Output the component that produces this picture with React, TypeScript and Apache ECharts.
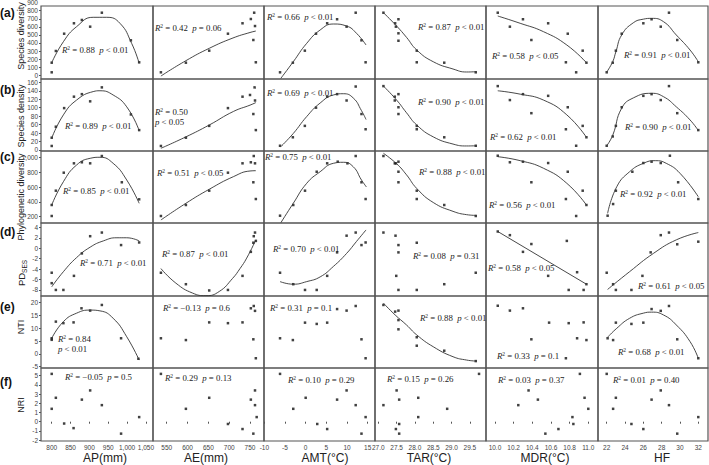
import React, { useEffect, useRef } from "react";
import * as echarts from "echarts";

// ---------- tick labels ----------
const apTicks = [800, 850, 900, 950, 1000, 1050];
const aeTicks = [550, 600, 650, 700, 750];
const amtTicks = [-10, -5, 0, 5, 10, 15];
const tarTicks = [27.0, 27.5, 28.0, 28.5, 29.0, 29.5];
const mdrTicks = [10.0, 10.2, 10.4, 10.6, 10.8, 11.0];
const hfTicks = [22, 24, 26, 28, 30, 32];
const sdivTicks = [0, 100, 200, 300, 400, 500, 600, 700, 800];
const sdenTicks = [0, 20, 40, 60, 80, 100, 120, 140, 160];
const pdTicks = [200, 400, 600, 800, 1000];
const pdsesTicks = [-8, -6, -4, -2, 0, 2, 4];
const ntiTicks = [-5, 0, 5, 10, 15, 20];
const nriTicks = [-2, -1, 0, 1, 2, 3, 4, 5];

const xNames = ["AP(mm)", "AE(mm)", "AMT(°C)", "TAR(°C)", "MDR(°C)", "HF"];
const rowTags = ["(a)", "(b)", "(c)", "(d)", "(e)", "(f)"];

// ---------- row (a) species diversity ----------
const a1Pts = [[800,156],[800,37],[811,301],[833,515],[859,644],[880,685],[902,602],[933,775],[1010,433],[1032,161]];
const a1Fit = [[800,156],[831,416],[866,602],[910,718],[946,718],[981,644],[1012,396],[1032,149]];
const a2Pts = [[536,37],[596,156],[652,305],[697,515],[732,644],[752,697],[760,775],[762,610],[758,437],[764,161]];
const a2Fit = [[536,-9],[596,181],[652,334],[709,462],[750,530],[764,548]];
const a3Pts = [[-6.2,37],[-3.1,156],[-0.2,305],[2.5,515],[5.2,644],[7.6,694],[12.1,775],[9.9,602],[13.5,433],[14.5,161]];
const a3Fit = [[-6.0,-37],[-3.0,168],[0.25,396],[3.5,561],[6.7,635],[9.9,610],[12.3,520],[14.6,375]];
const a4Pts = [[27.14,775],[27.46,644],[27.55,694],[27.48,602],[27.55,520],[27.55,428],[28.05,305],[28.05,161],[28.8,156],[29.66,37]];
const a4Fit = [[27.14,775],[27.5,610],[27.77,470],[28.05,313],[28.5,168],[29.04,78],[29.41,41],[29.68,45]];
const a5Pts = [[10.03,775],[10.16,602],[10.30,694],[10.39,437],[10.57,644],[10.78,515],[10.76,161],[10.87,37],[10.94,305],[10.98,156]];
const a5Fit = [[10.03,734],[10.27,644],[10.52,540],[10.77,375],[10.98,156]];
const a6Pts = [[22.0,37],[22.66,156],[23.0,305],[23.64,515],[26.0,644],[26.9,694],[27.9,602],[28.8,775],[29.7,437],[32.0,161]];
const a6Fit = [[22.0,40],[22.66,170],[23.0,290],[23.64,500],[24.9,650],[26.0,695],[26.9,705],[28.2,664],[29.6,499],[31.1,313],[32.0,168]];

// ---------- row (b) species density ----------
const b1Pts = [[800,29],[800,9.5],[811,55],[833,99],[859,126],[880,132],[902,115],[933,148],[1010,84],[1032,47]];
const b1Fit = [[800,28],[831,83],[866,118],[910,138],[928,140],[963,130],[999,102],[1032,46]];
const b2Pts = [[536,9.5],[596,29],[652,57],[697,99],[732,126],[750,130],[761,148],[762,117],[758,85],[764,47]];
const b2Fit = [[536,4],[596,31],[652,59],[710,91],[750,106],[764,112]];
const b3Pts = [[-6.2,10],[-3.1,30],[-0.2,57],[2.5,100],[5.2,126],[7.6,132],[12.1,150],[9.9,117],[13.5,85],[14.5,49]];
const b3Fit = [[-6.0,8],[-3.0,39],[0.25,79],[3.5,111],[6.7,130],[9.1,133],[11.5,123],[13.5,93],[14.6,72]];
const b4Pts = [[27.14,151],[27.45,126],[27.55,132],[27.45,117],[27.55,101],[27.55,85],[28.05,57],[28.05,49],[28.8,30],[29.66,10]];
const b4Fit = [[27.14,151],[27.5,118],[27.77,88],[28.05,59],[28.5,31],[29.04,14],[29.41,9.5],[29.68,10]];
const b5Pts = [[10.03,151],[10.16,118],[10.30,132],[10.39,87],[10.57,128],[10.78,101],[10.76,49],[10.87,10],[10.94,57],[10.98,30]];
const b5Fit = [[10.03,140],[10.27,132],[10.52,118],[10.77,83],[10.98,30]];
const b6Pts = [[22.0,10],[22.66,32],[23.0,57],[23.64,101],[26.0,128],[26.9,132],[27.9,118],[28.8,151],[29.7,87],[32.0,47]];
const b6Fit = [[22.0,10],[22.66,35],[23.64,99],[24.9,123],[26.9,134],[28.2,126],[29.6,102],[31.1,71],[32.0,46]];

// ---------- row (c) phylogenetic diversity ----------
const c1Pts = [[800,356],[800,207],[811,550],[832,794],[859,921],[880,935],[902,921],[933,1020],[986,664],[1032,433]];
const c1Fit = [[800,356],[831,672],[866,898],[902,989],[928,1003],[963,921],[999,695],[1032,379]];
const c2Pts = [[536,207],[596,356],[652,550],[697,794],[732,921],[752,935],[759,1020],[762,921],[758,664],[764,437]];
const c2Fit = [[536,153],[596,379],[652,569],[710,740],[750,817],[764,821]];
const c3Pts = [[-6.2,211],[-3.0,356],[-0.16,550],[2.67,807],[5.2,921],[7.75,943],[10.1,921],[12.1,1020],[13.5,664],[14.5,437]];
const c3Fit = [[-6.0,116],[-3.0,379],[0.25,650],[3.5,807],[6.7,921],[9.1,935],[11.5,875],[13.5,695],[14.7,600]];
const c4Pts = [[27.14,1020],[27.45,921],[27.55,943],[27.48,921],[27.55,807],[27.55,664],[28.05,550],[28.05,437],[28.8,356],[29.66,207]];
const c4Fit = [[27.14,1057],[27.5,915],[27.77,765],[28.05,580],[28.5,390],[29.04,270],[29.41,225],[29.68,215]];
const c5Pts = [[10.03,1024],[10.16,935],[10.30,943],[10.39,664],[10.57,925],[10.78,807],[10.76,437],[10.87,207],[10.94,550],[10.98,356]];
const c5Fit = [[10.03,1011],[10.27,957],[10.52,854],[10.77,650],[10.98,356]];
const c6Pts = [[22.1,211],[22.7,369],[23.0,550],[24.8,807],[26.0,925],[26.9,943],[27.9,925],[28.9,1024],[29.8,664],[32.0,437]];
const c6Fit = [[22.1,243],[23.1,604],[24.5,807],[26.0,921],[27.3,957],[28.5,921],[30.0,786],[32.0,468]];

// ---------- row (d) PD_SES ----------
const d1Pts = [[800,-4.7],[800,-6.7],[811,-8.0],[831,-8.0],[859,-5.3],[880,-1.0],[902,2.3],[933,3.0],[984,0.6],[1032,1.1]];
const d1Fit = [[800,-7.4],[831,-4.5],[866,-1.8],[902,0.2],[937,1.4],[973,2.0],[999,2.0],[1032,1.4]];
const d2Pts = [[536,-4.7],[596,-6.9],[652,-8.1],[697,-8.0],[732,-5.3],[752,-0.7],[759,2.3],[762,3.0],[758,1.05],[764,1.4]];
const d2Fit = [[536,-3.9],[572,-6.7],[612,-8.6],[644,-9.1],[676,-8.3],[708,-5.8],[726,-3.9],[742,-1.9],[764,1.6]];
const d3Pts = [[-6.2,-4.7],[-3.0,-6.9],[-0.16,-8.0],[2.67,-8.0],[5.2,-5.3],[7.6,-0.8],[9.9,2.4],[12.1,3.0],[13.5,0.6],[14.5,1.1]];
const d3Fit = [[-6.2,-6.4],[-3.0,-6.9],[0.25,-6.4],[3.5,-5.5],[6.7,-3.5],[9.9,-1.0],[12.3,1.3],[14.6,3.5]];
const d4Pts = [[27.14,3.0],[27.47,2.4],[27.55,0.6],[27.55,-0.8],[27.49,-5.3],[27.55,-8.0],[28.05,1.05],[28.05,-8.0],[28.8,-6.9],[29.66,-4.7]];
const d5Pts = [[10.03,3.2],[10.16,2.5],[10.30,-0.7],[10.39,0.8],[10.57,-5.3],[10.77,1.4],[10.79,-8.0],[10.88,-4.6],[10.95,-8.0],[10.98,-6.9]];
const d5Fit = [[10.03,3.2],[10.98,-6.9]];
const d6Pts = [[22.0,-4.7],[22.7,-6.9],[23.0,-8.0],[24.7,-8.0],[25.9,-5.3],[26.8,-0.8],[27.9,2.5],[28.8,3.0],[29.7,0.75],[32.0,1.25]];
const d6Fit = [[22.1,-7.9],[24.5,-4.5],[27.1,-1.0],[29.6,1.6],[32.0,3.0]];

// ---------- row (e) NTI ----------
const e1Pts = [[800,6.1],[800,5.5],[811,12.6],[831,12.0],[858,12.3],[879,17.8],[902,16.9],[933,19.1],[984,6.1],[1030,-1.9]];
const e1Fit = [[800,6.1],[831,12.6],[866,15.9],[902,17.1],[928,16.8],[963,13.9],[999,6.7],[1032,-2.4]];
const e2Pts = [[536,6.1],[596,5.4],[652,12.3],[697,12.0],[732,12.3],[752,17.8],[762,16.8],[759,18.7],[758,5.7],[764,-1.7]];
const e3Pts = [[-6.2,6.1],[-3.1,5.4],[-0.16,12.2],[2.67,11.7],[5.2,12.2],[7.6,17.5],[9.9,16.9],[12.1,18.7],[13.5,5.7],[14.5,-1.7]];
const e4Pts = [[27.14,19.1],[27.46,16.5],[27.55,16.9],[27.55,13.2],[27.55,9.6],[28.05,6.5],[28.05,3.2],[28.8,1.25],[29.66,-2.8]];
const e4Fit = [[27.14,19.8],[27.46,15.2],[27.77,11.3],[28.05,7.4],[28.5,2.8],[29.04,-1.1],[29.41,-2.4],[29.68,-2.8]];
const e5Pts = [[10.03,18.8],[10.16,16.9],[10.30,17.8],[10.39,5.7],[10.58,12.2],[10.79,12.0],[10.76,-1.7],[10.88,6.1],[10.95,12.3],[10.98,5.4]];
const e6Pts = [[22.1,6.1],[22.7,5.4],[23.0,12.2],[24.7,11.7],[26.0,12.2],[26.9,17.5],[27.9,16.8],[28.8,18.7],[29.7,5.7],[32.0,-1.7]];
const e6Fit = [[22.1,6.5],[23.1,10.0],[24.5,13.9],[26.0,15.9],[26.9,16.3],[28.2,15.2],[29.6,11.3],[31.1,4.8],[32.0,-1.7]];

// ---------- row (f) NRI ----------
const f1Pts = [[800,5.2],[800,1.4],[811,2.6],[833,-0.2],[858,-0.7],[880,2.4],[902,3.4],[933,1.8],[984,-1.3],[1032,0.5]];
const f2Pts = [[536,5.2],[596,1.4],[652,2.6],[697,-0.25],[732,-0.8],[762,3.4],[752,2.4],[762,1.8],[766,0.5],[758,-1.3]];
const f3Pts = [[-6.2,5.2],[-3.0,1.4],[0.0,2.6],[2.8,-0.25],[5.2,-0.8],[7.6,2.4],[9.9,3.4],[12.1,1.8],[13.5,-1.3],[14.5,0.5]];
const f4Pts = [[27.14,1.8],[27.5,3.4],[27.57,2.4],[27.48,-0.8],[27.57,-0.25],[27.57,-1.3],[28.09,2.6],[28.09,0.5],[28.88,1.4],[29.75,5.2]];
const f5Pts = [[10.91,5.2],[10.36,3.4],[10.46,2.4],[10.25,1.8],[10.96,2.6],[11.0,1.4],[10.83,0.5],[10.84,-0.25],[10.68,-0.8],[10.54,-1.3]];
const f6Pts = [[22.0,5.2],[22.7,1.4],[23.0,2.6],[24.7,-0.25],[26.0,-0.8],[26.9,2.4],[27.9,3.4],[28.8,1.8],[29.7,-1.3],[32.0,0.5]];

// ---------- statistics text ----------
const r2A = ["0.88", "0.42", "0.66", "0.87", "0.58", "0.91"];
const pA = ["< 0.01", "= 0.06", "< 0.01", "< 0.01", "< 0.05", "< 0.01"];
const r2B = ["0.89", "0.50", "0.69", "0.90", "0.62", "0.90"];
const pB = ["< 0.01", "< 0.05", "< 0.01", "< 0.01", "< 0.01", "< 0.01"];
const r2C = ["0.85", "0.51", "0.75", "0.88", "0.56", "0.92"];
const pC = ["< 0.01", "< 0.05", "< 0.01", "< 0.01", "< 0.01", "< 0.01"];
const r2D = ["0.71", "0.87", "0.70", "0.08", "0.58", "0.61"];
const pD = ["< 0.01", "< 0.01", "< 0.01", "= 0.31", "< 0.05", "< 0.05"];
const r2E = ["0.84", "\u22120.13", "0.31", "0.88", "0.33", "0.68"];
const pE = ["< 0.01", "= 0.6", "= 0.1", "< 0.01", "= 0.1", "< 0.01"];
const r2F = ["\u22120.05", "0.29", "0.10", "0.15", "0.03", "0.01"];
const pF = ["= 0.5", "= 0.13", "= 0.29", "= 0.26", "= 0.37", "= 0.40"];

// ---------- layout ----------
const colB = [41, 153, 264, 375, 486, 598, 708];
const rowB = [6, 79, 151, 223, 296, 368, 441];
const annoPos = [
  [[62, 50], [155, 28], [267, 17], [418, 27], [492, 56], [624, 55]],
  [[65, 126], [155, 117], [267, 93], [418, 102], [490, 137], [625, 127]],
  [[63, 191], [157, 173], [265, 157], [419, 172], [489, 205], [620, 194]],
  [[80, 263], [162, 254], [273, 249], [413, 256], [488, 268], [638, 286]],
  [[58, 344], [163, 308], [270, 308], [420, 318], [497, 356], [618, 352]],
  [[65, 377], [165, 378], [288, 380], [387, 379], [498, 380], [613, 380]],
];
const twoLine = { "1-1": true, "4-0": true } as Record<string, boolean>;
const xNamePos = [105, 206, 325, 429, 545, 662];
const yNamePos = [36, 116, 197, 273, 327, 405];
const tagPos = [13, 90, 157, 232, 307, 382];

const SANS = "Liberation Sans";
const SERIF = "Liberation Serif";
const STAT_FS = 8.8;

const comma = (v: number) => v.toLocaleString("en-US");

const xCfg = [
  { min: 771.6, max: 1068.7, ticks: apTicks, fmt: comma },
  { min: 517, max: 783.6, ticks: aeTicks, fmt: (v: number) => String(v) },
  { min: -10.08, max: 16.77, ticks: amtTicks, fmt: (v: number) => String(v) },
  { min: 26.91, max: 29.94, ticks: tarTicks, fmt: (v: number) => v.toFixed(1) },
  { min: 9.904, max: 11.104, ticks: mdrTicks, fmt: (v: number) => v.toFixed(1) },
  { min: 21.05, max: 33.06, ticks: hfTicks, fmt: (v: number) => String(v) },
];
const yCfg = [
  { min: -45.8, max: 858, ticks: sdivTicks, fmt: comma },
  { min: -2.4, max: 167.8, ticks: sdenTicks, fmt: comma },
  { min: 112, max: 1088, ticks: pdTicks, fmt: comma },
  { min: -9.16, max: 4.83, ticks: pdsesTicks, fmt: (v: number) => String(v) },
  { min: -5.5, max: 22.6, ticks: ntiTicks, fmt: (v: number) => String(v) },
  { min: -2.1, max: 5.84, ticks: nriTicks, fmt: (v: number) => String(v) },
];

const ptsTable = [
  [a1Pts, a2Pts, a3Pts, a4Pts, a5Pts, a6Pts],
  [b1Pts, b2Pts, b3Pts, b4Pts, b5Pts, b6Pts],
  [c1Pts, c2Pts, c3Pts, c4Pts, c5Pts, c6Pts],
  [d1Pts, d2Pts, d3Pts, d4Pts, d5Pts, d6Pts],
  [e1Pts, e2Pts, e3Pts, e4Pts, e5Pts, e6Pts],
  [f1Pts, f2Pts, f3Pts, f4Pts, f5Pts, f6Pts],
];
const fitTable: (number[][] | null)[][] = [
  [a1Fit, a2Fit, a3Fit, a4Fit, a5Fit, a6Fit],
  [b1Fit, b2Fit, b3Fit, b4Fit, b5Fit, b6Fit],
  [c1Fit, c2Fit, c3Fit, c4Fit, c5Fit, c6Fit],
  [d1Fit, d2Fit, d3Fit, null, d5Fit, d6Fit],
  [e1Fit, null, null, e4Fit, null, e6Fit],
  [null, null, null, null, null, null],
];
const r2Table = [r2A, r2B, r2C, r2D, r2E, r2F];
const pTable = [pA, pB, pC, pD, pE, pF];

function buildOption() {
  const grid: any[] = [];
  const xAxis: any[] = [];
  const yAxis: any[] = [];
  const series: any[] = [];
  const graphic: any[] = [];

  const statRich = {
    i: { fontFamily: SERIF, fontStyle: "italic", fontSize: STAT_FS, color: "#222", lineHeight: 10 },
    s: { fontFamily: SERIF, fontSize: 5.5, color: "#222", verticalAlign: "top", lineHeight: 10 },
    n: { fontFamily: SERIF, fontSize: STAT_FS, color: "#222", lineHeight: 10 },
  };

  for (let r = 0; r < 6; r++) {
    for (let c = 0; c < 6; c++) {
      const idx = r * 6 + c;
      grid.push({
        left: colB[c],
        top: rowB[r],
        width: colB[c + 1] - colB[c],
        height: rowB[r + 1] - rowB[r],
        show: true,
        borderColor: "#555",
        borderWidth: 1.2,
        backgroundColor: "transparent",
        containLabel: false,
        outerBoundsMode: "none",
      });
      const xc = xCfg[c];
      const yc = yCfg[r];
      const bottom = r === 5;
      const left = c === 0;
      xAxis.push({
        type: "value",
        gridIndex: idx,
        min: xc.min,
        max: xc.max,
        axisLine: { show: false },
        splitLine: { show: false },
        axisTick: {
          show: bottom,
          length: 2,
          inside: false,
          customValues: xc.ticks,
          lineStyle: { color: "#555" },
        },
        axisLabel: {
          show: bottom,
          customValues: xc.ticks,
          formatter: xc.fmt,
          fontSize: 6.5,
          fontFamily: SANS,
          color: "#444",
          margin: 3,
        },
      });
      yAxis.push({
        type: "value",
        gridIndex: idx,
        min: yc.min,
        max: yc.max,
        axisLine: { show: false },
        splitLine: { show: false },
        axisTick: {
          show: left,
          length: 2,
          inside: false,
          customValues: yc.ticks,
          lineStyle: { color: "#555" },
        },
        axisLabel: {
          show: left,
          customValues: yc.ticks,
          formatter: yc.fmt,
          fontSize: 6.5,
          fontFamily: SANS,
          color: "#444",
          margin: 3,
        },
      });
      const fit = fitTable[r][c];
      if (fit) {
        series.push({
          type: "line",
          xAxisIndex: idx,
          yAxisIndex: idx,
          data: fit,
          smooth: fit.length > 2 ? 0.5 : false,
          symbol: "none",
          lineStyle: { color: "#333", width: 0.9 },
          silent: true,
        });
      }
      series.push({
        type: "scatter",
        xAxisIndex: idx,
        yAxisIndex: idx,
        data: ptsTable[r][c],
        symbol: "rect",
        symbolSize: 2.5,
        itemStyle: { color: "#111" },
        silent: true,
      });

      // statistics annotation
      const two = twoLine[`${r}-${c}`];
      const [ax, ay] = annoPos[r][c];
      const txt = two
        ? `{i|R}{s|2}{n| = ${r2Table[r][c]}}\n{i|p}{n| ${pTable[r][c]}}`
        : `{i|R}{s|2}{n| = ${r2Table[r][c]}  }{i|p}{n| ${pTable[r][c]}}`;
      graphic.push({
        type: "text",
        x: ax,
        y: ay,
        silent: true,
        style: {
          text: txt,
          rich: statRich,
          align: "left",
          textAlign: "left",
          verticalAlign: "middle",
          textVerticalAlign: "middle",
          fill: "#222",
        },
      });
    }
  }

  // x axis names
  xNames.forEach((n, c) => {
    graphic.push({
      type: "text",
      x: xNamePos[c],
      y: 458,
      silent: true,
      style: {
        text: n,
        font: `12px ${SANS}`,
        fill: "#222",
        align: "center",
        textAlign: "center",
        verticalAlign: "middle",
        textVerticalAlign: "middle",
      },
    });
  });

  // y axis names
  const yNames = [
    "Species diversity",
    "Species density",
    "Phylogenetic diversity",
    "{a|PD}{b|SES}",
    "NTI",
    "NRI",
  ];
  yNames.forEach((n, r) => {
    graphic.push({
      type: "text",
      x: 21,
      y: yNamePos[r],
      rotation: Math.PI / 2,
      silent: true,
      style: {
        text: n,
        font: `9px ${SANS}`,
        fill: "#222",
        align: "center",
        textAlign: "center",
        verticalAlign: "middle",
        textVerticalAlign: "middle",
        rich: {
          a: { fontFamily: SANS, fontSize: 9.5, color: "#222", lineHeight: 13 },
          b: { fontFamily: SANS, fontSize: 6.5, color: "#222", verticalAlign: "bottom", lineHeight: 13 },
        },
      },
    });
  });

  // row tags
  rowTags.forEach((t, r) => {
    graphic.push({
      type: "text",
      x: 0,
      y: tagPos[r],
      silent: true,
      style: {
        text: t,
        font: `bold 12px ${SANS}`,
        fill: "#111",
        align: "left",
        textAlign: "left",
        verticalAlign: "middle",
        textVerticalAlign: "middle",
      },
    });
  });

  // the "900" label drawn above the first row's frame
  graphic.push({
    type: "text",
    x: 38,
    y: 2.5,
    silent: true,
    style: {
      text: "900",
      font: `6.5px ${SANS}`,
      fill: "#444",
      align: "right",
      textAlign: "right",
      verticalAlign: "middle",
      textVerticalAlign: "middle",
    },
  });

  return {
    animation: false,
    backgroundColor: "#ffffff",
    grid,
    xAxis,
    yAxis,
    series,
    graphic,
  };
}

export default function App() {
  const ref = useRef<HTMLDivElement>(null);
  useEffect(() => {
    const chart = echarts.init(ref.current!, null, { renderer: "svg" });
    chart.setOption(buildOption());
    return () => chart.dispose();
  }, []);
  return (
    <div
      ref={ref}
      style={{ position: "absolute", left: 0, top: 0, width: 709, height: 465 }}
    />
  );
}
